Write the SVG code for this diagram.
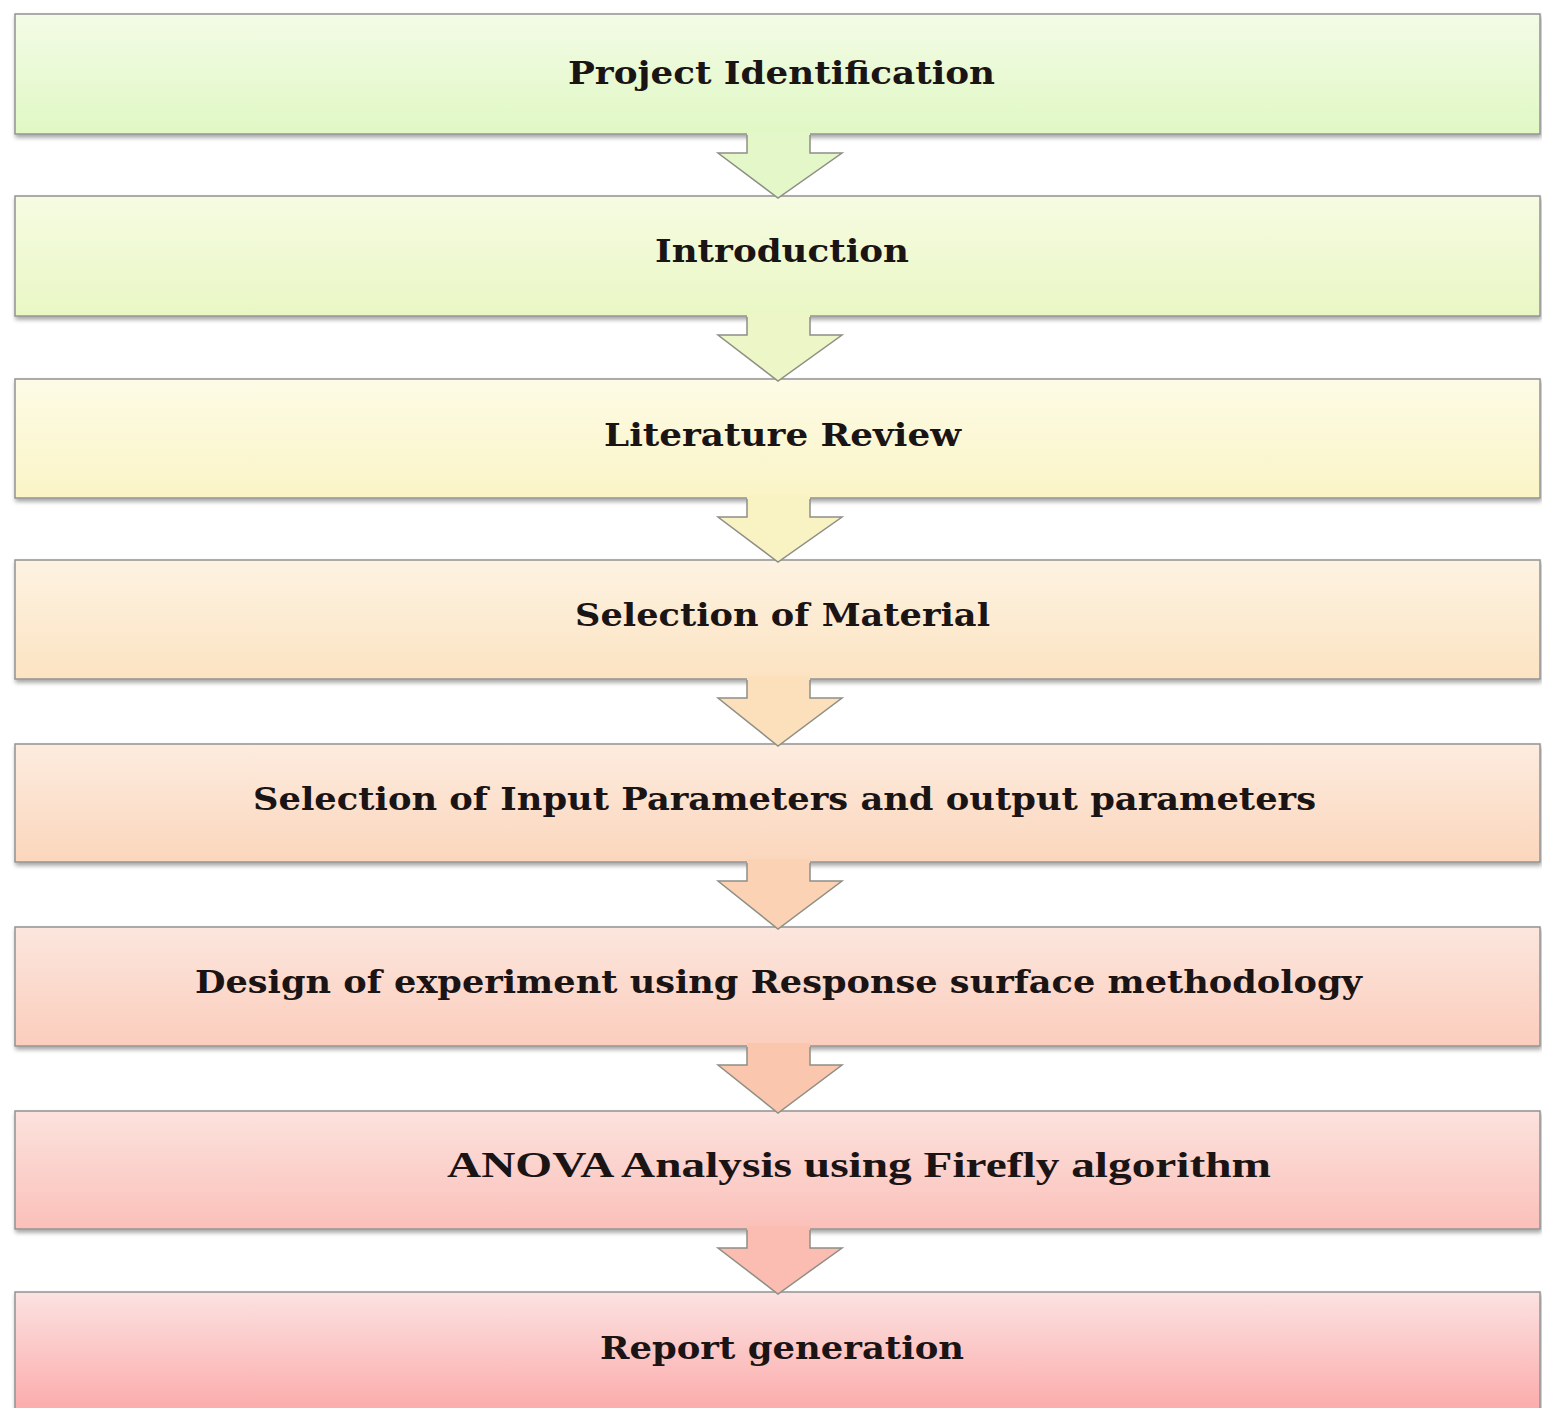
<svg xmlns="http://www.w3.org/2000/svg" width="1542" height="1408" viewBox="0 0 1542 1408">
<style>
.box{stroke:#939393;stroke-width:1.5}
.lbl{font-family:"DejaVu Serif","Liberation Serif",serif;font-weight:bold;font-size:32px;fill:#1a1414;text-anchor:middle}
.tms{font-family:"Liberation Serif","Times New Roman",serif;font-size:35px}
.arr{stroke:none}
.arrl{fill:none;stroke:#8f8f86;stroke-width:1.5;stroke-linejoin:miter}
</style>
<defs>
<filter id="sh" x="-2%" y="-10%" width="104%" height="130%">
<feDropShadow dx="1" dy="3" stdDeviation="2" flood-color="#000" flood-opacity="0.35"/>
</filter>
<linearGradient id="g1" x1="0" y1="0" x2="0" y2="1"><stop offset="0" stop-color="#f3fbe6"/><stop offset="1" stop-color="#e0f8c4"/></linearGradient>
<linearGradient id="g2" x1="0" y1="0" x2="0" y2="1"><stop offset="0" stop-color="#f6fbe2"/><stop offset="1" stop-color="#e9f7c4"/></linearGradient>
<linearGradient id="g3" x1="0" y1="0" x2="0" y2="1"><stop offset="0" stop-color="#fdfbe6"/><stop offset="1" stop-color="#faf4c6"/></linearGradient>
<linearGradient id="g4" x1="0" y1="0" x2="0" y2="1"><stop offset="0" stop-color="#fdf3e2"/><stop offset="1" stop-color="#fce3c2"/></linearGradient>
<linearGradient id="g5" x1="0" y1="0" x2="0" y2="1"><stop offset="0" stop-color="#fdecdf"/><stop offset="1" stop-color="#fbd6bc"/></linearGradient>
<linearGradient id="g6" x1="0" y1="0" x2="0" y2="1"><stop offset="0" stop-color="#fce6dd"/><stop offset="1" stop-color="#fbcdbd"/></linearGradient>
<linearGradient id="g7" x1="0" y1="0" x2="0" y2="1"><stop offset="0" stop-color="#fce2dd"/><stop offset="1" stop-color="#fbc0ba"/></linearGradient>
<linearGradient id="g8" x1="0" y1="0" x2="0" y2="1"><stop offset="0" stop-color="#fbe2e1"/><stop offset="1" stop-color="#fca6a6"/></linearGradient>
</defs>
<rect width="1542" height="1408" fill="#ffffff"/>

<g id="n1" filter="url(#sh)"><rect class="box" x="15" y="14" width="1525" height="120" fill="url(#g1)"/></g>
<g id="n2" filter="url(#sh)"><rect class="box" x="15" y="196" width="1525" height="120" fill="url(#g2)"/></g>
<g id="n3" filter="url(#sh)"><rect class="box" x="15" y="379" width="1525" height="119" fill="url(#g3)"/></g>
<g id="n4" filter="url(#sh)"><rect class="box" x="15" y="560" width="1525" height="119" fill="url(#g4)"/></g>
<g id="n5" filter="url(#sh)"><rect class="box" x="15" y="744" width="1525" height="118" fill="url(#g5)"/></g>
<g id="n6" filter="url(#sh)"><rect class="box" x="15" y="927" width="1525" height="119" fill="url(#g6)"/></g>
<g id="n7" filter="url(#sh)"><rect class="box" x="15" y="1111" width="1525" height="118" fill="url(#g7)"/></g>
<g id="n8" filter="url(#sh)"><rect class="box" x="15" y="1292" width="1525" height="130" fill="url(#g8)"/></g>

<g id="connectors">
<g><polygon class="arr" fill="#e4f7c8" points="747,131 810,131 810,153 842,153 778,198 718,153 747,153"/><polyline class="arrl" points="747,135 747,153 718,153 778,198 842,153 810,153 810,135"/></g>
<g><polygon class="arr" fill="#ecf6c6" points="747,313 810,313 810,335 842,335 778,381 718,335 747,335"/><polyline class="arrl" points="747,317 747,335 718,335 778,381 842,335 810,335 810,317"/></g>
<g><polygon class="arr" fill="#f9f3c4" points="747,495 810,495 810,517 842,517 778,562 718,517 747,517"/><polyline class="arrl" points="747,499 747,517 718,517 778,562 842,517 810,517 810,499"/></g>
<g><polygon class="arr" fill="#fce0bc" points="747,676 810,676 810,698 842,698 778,746 718,698 747,698"/><polyline class="arrl" points="747,680 747,698 718,698 778,746 842,698 810,698 810,680"/></g>
<g><polygon class="arr" fill="#fbd2b4" points="747,859 810,859 810,881 842,881 778,929 718,881 747,881"/><polyline class="arrl" points="747,863 747,881 718,881 778,929 842,881 810,881 810,863"/></g>
<g><polygon class="arr" fill="#fbc6ae" points="747,1043 810,1043 810,1065 842,1065 778,1113 718,1065 747,1065"/><polyline class="arrl" points="747,1047 747,1065 718,1065 778,1113 842,1065 810,1065 810,1047"/></g>
<g><polygon class="arr" fill="#fbbcb2" points="747,1226 810,1226 810,1248 842,1248 778,1294 718,1248 747,1248"/><polyline class="arrl" points="747,1230 747,1248 718,1248 778,1294 842,1248 810,1248 810,1230"/></g>
</g>

<g id="labels">
<text class="lbl" x="781.5" y="84" textLength="427" lengthAdjust="spacingAndGlyphs">Project Identification</text>
<text class="lbl" x="782" y="262" textLength="254" lengthAdjust="spacingAndGlyphs">Introduction</text>
<text class="lbl" x="782.5" y="446" textLength="357" lengthAdjust="spacingAndGlyphs">Literature Review</text>
<text class="lbl" x="782.5" y="626" textLength="415" lengthAdjust="spacingAndGlyphs">Selection of Material</text>
<text class="lbl" x="784.5" y="810" textLength="1063" lengthAdjust="spacingAndGlyphs">Selection of Input Parameters and output parameters</text>
<text class="lbl" x="778.5" y="993" textLength="1167" lengthAdjust="spacingAndGlyphs">Design of experiment using Response surface methodology</text>
<text class="lbl tms" x="859" y="1177" textLength="824" lengthAdjust="spacingAndGlyphs">ANOVA Analysis using Firefly algorithm</text>
<text class="lbl" x="782" y="1359" textLength="364" lengthAdjust="spacingAndGlyphs">Report generation</text>
</g>
</svg>
